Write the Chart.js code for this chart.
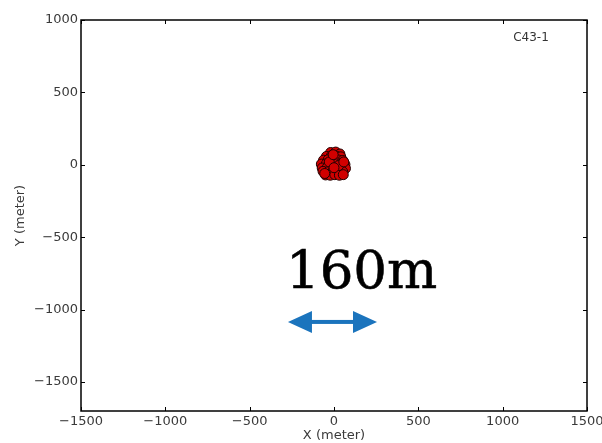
<!DOCTYPE html>
<html>
<head>
<meta charset="utf-8">
<script src="https://cdn.jsdelivr.net/npm/chart.js@4"></script>
<style>
  html, body { margin: 0; padding: 0; background: #fff; }
  #wrap { width: 602px; height: 443px; }
</style>
</head>
<body>
<div id="wrap"><canvas id="cfg"></canvas></div>
<script>
// antenna pad positions (meter)
const antennaX = [-20, 10, 35, -45, -15, 15, 40, -62, -35, -5, 25, 52, -75, -45, -15, 15, 42, 65,
                  -70, -40, -10, 20, 48, 68, -65, -35, -5, 25, 52, -50, -22, 5, 32, 55, -28, 28, 0, -55, 58, -5];
const antennaY = [85, 88, 75, 58, 62, 60, 55, 32, 35, 38, 34, 30, 5, 8, 12, 6, 10, 2,
                  -22, -18, -22, -18, -22, -25, -45, -48, -42, -45, -48, -70, -72, -68, -72, -68, 20, -5, -20, -60, 20, 70];
const xTicks = [-1500, -1000, -500, 0, 500, 1000, 1500];
const yTicks = [-1500, -1000, -500, 0, 500, 1000];
const configName = 'C43-1';
const configPos = [1168, 880];
const scaleText = '160m';
const scaleTextPos = [-285, -850];
const arrowX = [-273, 255];
const arrowY = -1085;

const minus = v => String(v).replace('-', '\u2212');

const framePlugin = {
  id: 'frame',
  afterDatasetsDraw(chart) {
    const { ctx, chartArea: a, scales: { x, y } } = chart;
    ctx.save();
    ctx.strokeStyle = '#000';
    ctx.lineWidth = 1.5;
    ctx.strokeRect(a.left, a.top, a.right - a.left, a.bottom - a.top);
    ctx.lineWidth = 1;
    xTicks.forEach(v => {
      const px = Math.round(x.getPixelForValue(v)) + 0.5;
      ctx.beginPath();
      ctx.moveTo(px, a.bottom); ctx.lineTo(px, a.bottom - 4);
      ctx.moveTo(px, a.top); ctx.lineTo(px, a.top + 4);
      ctx.stroke();
    });
    yTicks.forEach(v => {
      const py = Math.round(y.getPixelForValue(v)) + 0.5;
      ctx.beginPath();
      ctx.moveTo(a.left, py); ctx.lineTo(a.left + 4, py);
      ctx.moveTo(a.right, py); ctx.lineTo(a.right - 4, py);
      ctx.stroke();
    });

    // configuration name
    ctx.fillStyle = '#333';
    ctx.font = '12px "DejaVu Sans"';
    ctx.textAlign = 'center';
    ctx.textBaseline = 'middle';
    ctx.fillText(configName, x.getPixelForValue(configPos[0]), y.getPixelForValue(configPos[1]));

    // size annotation
    ctx.fillStyle = '#000';
    ctx.strokeStyle = '#000';
    ctx.lineWidth = 0.6;
    ctx.font = '53px "DejaVu Serif"';
    ctx.textAlign = 'left';
    ctx.textBaseline = 'alphabetic';
    const tx = x.getPixelForValue(scaleTextPos[0]), ty = y.getPixelForValue(scaleTextPos[1]);
    ctx.fillText(scaleText, tx, ty);
    ctx.strokeText(scaleText, tx, ty);

    const x0 = x.getPixelForValue(arrowX[0]), x1 = x.getPixelForValue(arrowX[1]);
    const ay = y.getPixelForValue(arrowY);
    const head = 24, hh = 11;
    ctx.fillStyle = '#1b74bd';
    ctx.fillRect(x0 + head - 2, ay - 2, (x1 - x0) - 2 * head + 4, 4);
    ctx.beginPath();
    ctx.moveTo(x0, ay); ctx.lineTo(x0 + head, ay - hh); ctx.lineTo(x0 + head, ay + hh); ctx.closePath();
    ctx.moveTo(x1, ay); ctx.lineTo(x1 - head, ay - hh); ctx.lineTo(x1 - head, ay + hh); ctx.closePath();
    ctx.fill();
    ctx.restore();
  }
};

const tickFont = { family: 'DejaVu Sans', size: 13 };

new Chart(document.getElementById('cfg'), {
  type: 'scatter',
  data: {
    datasets: [{
      data: antennaX.map((v, i) => ({ x: v, y: antennaY[i] })),
      backgroundColor: '#d10000',
      borderColor: '#220000',
      borderWidth: 1,
      pointRadius: 5,
    }]
  },
  options: {
    responsive: true,
    maintainAspectRatio: false,
    animation: false,
    events: [],
    layout: { padding: { top: 20, right: 15 } },
    plugins: { legend: { display: false }, tooltip: { enabled: false } },
    scales: {
      x: {
        min: -1500, max: 1500,
        afterBuildTicks: s => { s.ticks = xTicks.map(v => ({ value: v })); },
        afterFit: s => { s.height = 32; s.paddingLeft = 0; s.paddingRight = 0; },
        grid: { display: false, drawTicks: false },
        border: { display: false },
        ticks: { color: '#3a3a3a', font: tickFont, padding: 3, maxRotation: 0, callback: minus },
        title: { display: true, text: 'X (meter)', color: '#3a3a3a', font: tickFont, padding: { top: -2, bottom: 0 } }
      },
      y: {
        min: -1700, max: 1000,
        afterBuildTicks: s => { s.ticks = yTicks.map(v => ({ value: v })); },
        afterFit: s => { s.width = 81; s.paddingTop = 0; s.paddingBottom = 0; },
        grid: { display: false, drawTicks: false },
        border: { display: false },
        ticks: { color: '#3a3a3a', font: tickFont, padding: 3, callback: minus },
        title: { display: true, text: 'Y (meter)', color: '#3a3a3a', font: tickFont, padding: { top: 13 } }
      }
    }
  },
  plugins: [framePlugin]
});
</script>
</body>
</html>
